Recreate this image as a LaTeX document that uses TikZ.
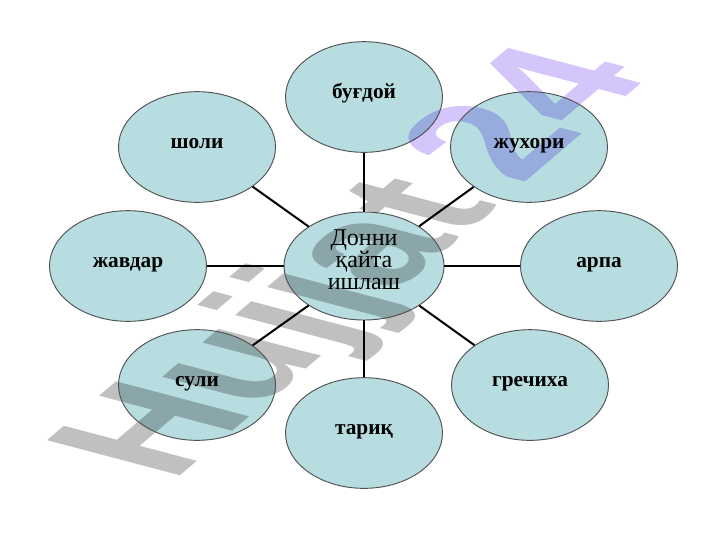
\documentclass[tikz,border=0pt]{standalone}
\usepackage{fontspec}
\setmainfont{Liberation Serif}
\newfontfamily\wmfont{Liberation Sans}
\usetikzlibrary{shapes.geometric}
\definecolor{bubble}{RGB}{183,221,225}
\definecolor{rim}{RGB}{80,80,80}
\definecolor{wmgray}{RGB}{192,192,192}
\definecolor{wmlav}{RGB}{212,198,250}
% watermark colours multiplied by the bubble colour
\definecolor{wmgrayin}{RGB}{138,166,169}
\definecolor{wmlavin}{RGB}{152,171,221}
\pgfdeclarelayer{wmback}
\pgfdeclarelayer{fills}
\pgfsetlayers{wmback,fills,main}
\newcommand\wmtext[3]{%
  \begin{scope}[cm={0.883,0.752,-1.45,0.383,(172,483)}]
  \node[transform shape, anchor=base west, inner sep=0pt,
    font=\wmfont\fontsize{100}{100}\selectfont\bfseries] (#3) at (0,0)
    {\textcolor{#1}{Hujjat}\kern19pt\textcolor{#2}{24}};
  \end{scope}}
\tikzset{
  outer/.style={ellipse, draw=rim, line width=0.7pt, inner sep=0pt,
    minimum width=117.75pt, minimum height=83pt, text height=11pt, text depth=9pt,
    font=\fontsize{16}{18}\selectfont\bfseries},
  hub/.style={ellipse, draw=rim, line width=0.7pt, inner sep=0pt,
    minimum width=120pt, minimum height=81pt, align=center,
    font=\fontsize{18}{16.5}\selectfont},
  link/.style={line width=1.5pt, black},
  oval/.style={x radius=58.875pt, y radius=41.5pt},
  hoval/.style={x radius=60pt, y radius=40.5pt}
}
\begin{document}
\begin{tikzpicture}[x=0.75pt,y=-0.75pt]
\useasboundingbox (0,0) rectangle (720,540);
\node[hub] (c) at (364,266) {Донни\\қайта\\ишлаш\rule[-9pt]{0pt}{0pt}};
\node[outer] (n1) at (364,97) {буғдой};
\node[outer] (n2) at (529,147) {жухори};
\node[outer] (n3) at (599,266) {арпа};
\node[outer] (n4) at (530,385) {гречиха};
\node[outer] (n5) at (364,433) {тариқ};
\node[outer] (n6) at (197,385) {сули};
\node[outer] (n7) at (128,266) {жавдар};
\node[outer] (n8) at (197,147) {шоли};
\foreach \n in {n1,n2,n3,n4,n5,n6,n7,n8}{
  \draw[link] (c) -- (\n);
}
\begin{pgfonlayer}{wmback}
  \fill[white] (0,0) rectangle (720,540);
  \wmtext{wmgray}{wmlav}{wm}
\end{pgfonlayer}
\begin{pgfonlayer}{fills}
  \fill[bubble] (c.center) ellipse[hoval];
  \foreach \n in {n1,n2,n3,n4,n5,n6,n7,n8}{
    \fill[bubble] (\n.center) ellipse[oval];
  }
  \begin{scope}
    \clip (c.center) ellipse[hoval] (n1.center) ellipse[oval]
      (n2.center) ellipse[oval] (n3.center) ellipse[oval]
      (n4.center) ellipse[oval] (n5.center) ellipse[oval]
      (n6.center) ellipse[oval] (n7.center) ellipse[oval]
      (n8.center) ellipse[oval];
    \wmtext{wmgrayin}{wmlavin}{wmin}
  \end{scope}
\end{pgfonlayer}
\end{tikzpicture}
\end{document}
